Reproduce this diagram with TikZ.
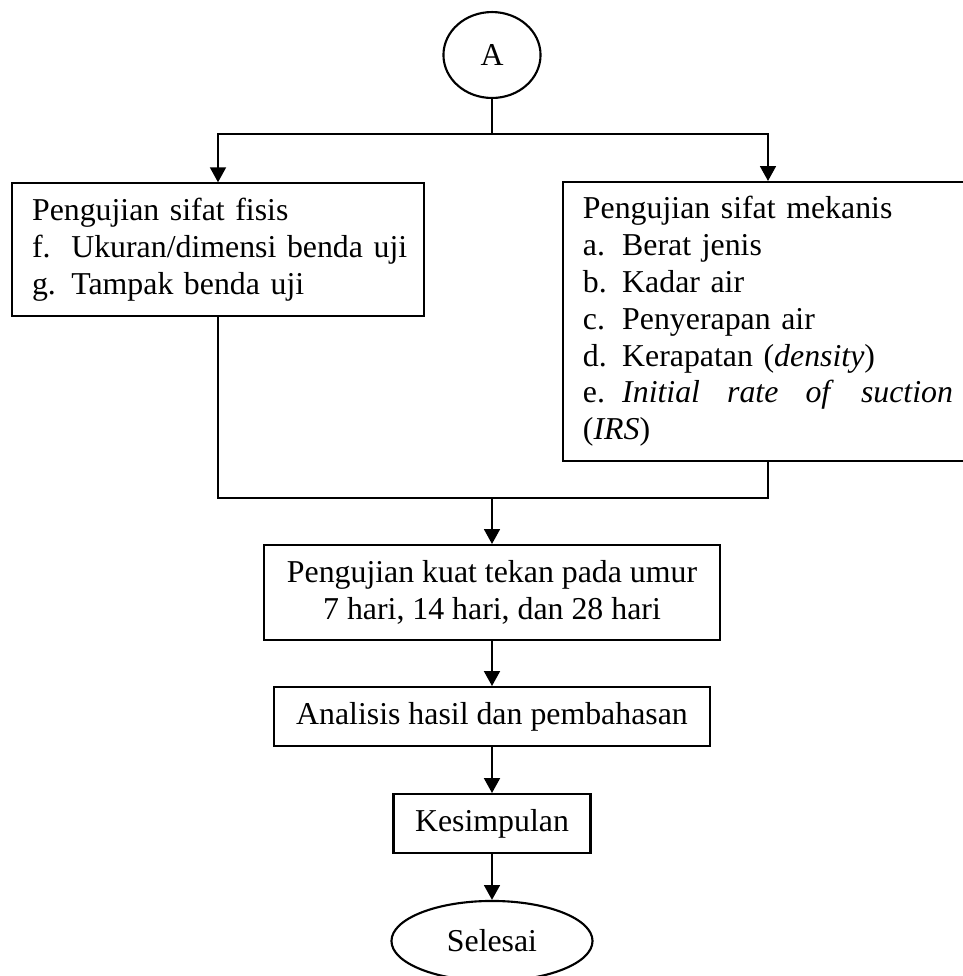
\documentclass[tikz,border=0pt]{standalone}
\usepackage{fontspec}
\setmainfont{Liberation Serif}
\usetikzlibrary{arrows.meta,shapes.geometric}
\newlength\itmind
\setlength\itmind{14.8pt}
\newcommand{\itm}[2]{\par\noindent\hangindent=\itmind\hangafter=1\makebox[\itmind][l]{#1}#2}
\begin{document}
\begin{tikzpicture}[x=.377pt,y=-.377pt,
  box/.style={draw,line width=.8pt,inner sep=0pt,font=\fontsize{12}{13.9}\selectfont},
  listbox/.style={box,text width=140.2pt,inner xsep=7.54pt,align=left},
  line/.style={line width=.7pt},
  arr/.style={line,-{Triangle[width=6pt,length=5.6pt]}}]
\useasboundingbox (0,0) rectangle (963,976);
\node[box,ellipse,minimum width=36.6pt,minimum height=32.4pt] (A) at (492,55) {A};
\node[listbox,minimum height=49.9pt] (fisis) at (218,249.5) {\noindent Pengujian sifat fisis
  \itm{f.}{\mbox{Ukuran/dimensi benda uji}}
  \itm{g.}{Tampak benda uji}};
\node[listbox,text width=139.5pt,minimum height=105.1pt] (mekanis) at (768,321.4) {\noindent Pengujian sifat mekanis
  \itm{a.}{Berat jenis}
  \itm{b.}{Kadar air}
  \itm{c.}{Penyerapan air}
  \itm{d.}{Kerapatan (\textit{density})}
  \itm{e.}{\textit{Initial}\hfill\textit{rate}\hfill\textit{of}\hfill\textit{suction}\\(\textit{IRS})}};
\node[box,align=center,minimum width=171.9pt,minimum height=35.8pt] (tekan) at (492,592.5) {Pengujian kuat tekan pada umur\\7 hari, 14 hari, dan 28 hari};
\node[box,minimum width=164.7pt,minimum height=22.2pt] (analisis) at (492,716.5) {Analisis hasil dan pembahasan};
\node[box,minimum width=74.3pt,minimum height=22.2pt] (simpul) at (492,823.5) {Kesimpulan};
\node[box,ellipse,minimum width=75.8pt,minimum height=30.2pt] (selesai) at (492,941) {Selesai};
\coordinate (split) at (492,134);
\coordinate (join) at (492,497.7);
\draw[line] (A) -- (split);
\draw[arr] (split) -| (fisis.north);
\draw[arr] (split) -| (mekanis.north);
\draw[line] (fisis.south) |- (join) -| (mekanis.south);
\draw[arr] (join) -- (tekan);
\draw[arr] (tekan) -- (analisis);
\draw[arr] (analisis) -- (simpul);
\draw[arr] (simpul) -- (selesai);
\end{tikzpicture}
\end{document}
